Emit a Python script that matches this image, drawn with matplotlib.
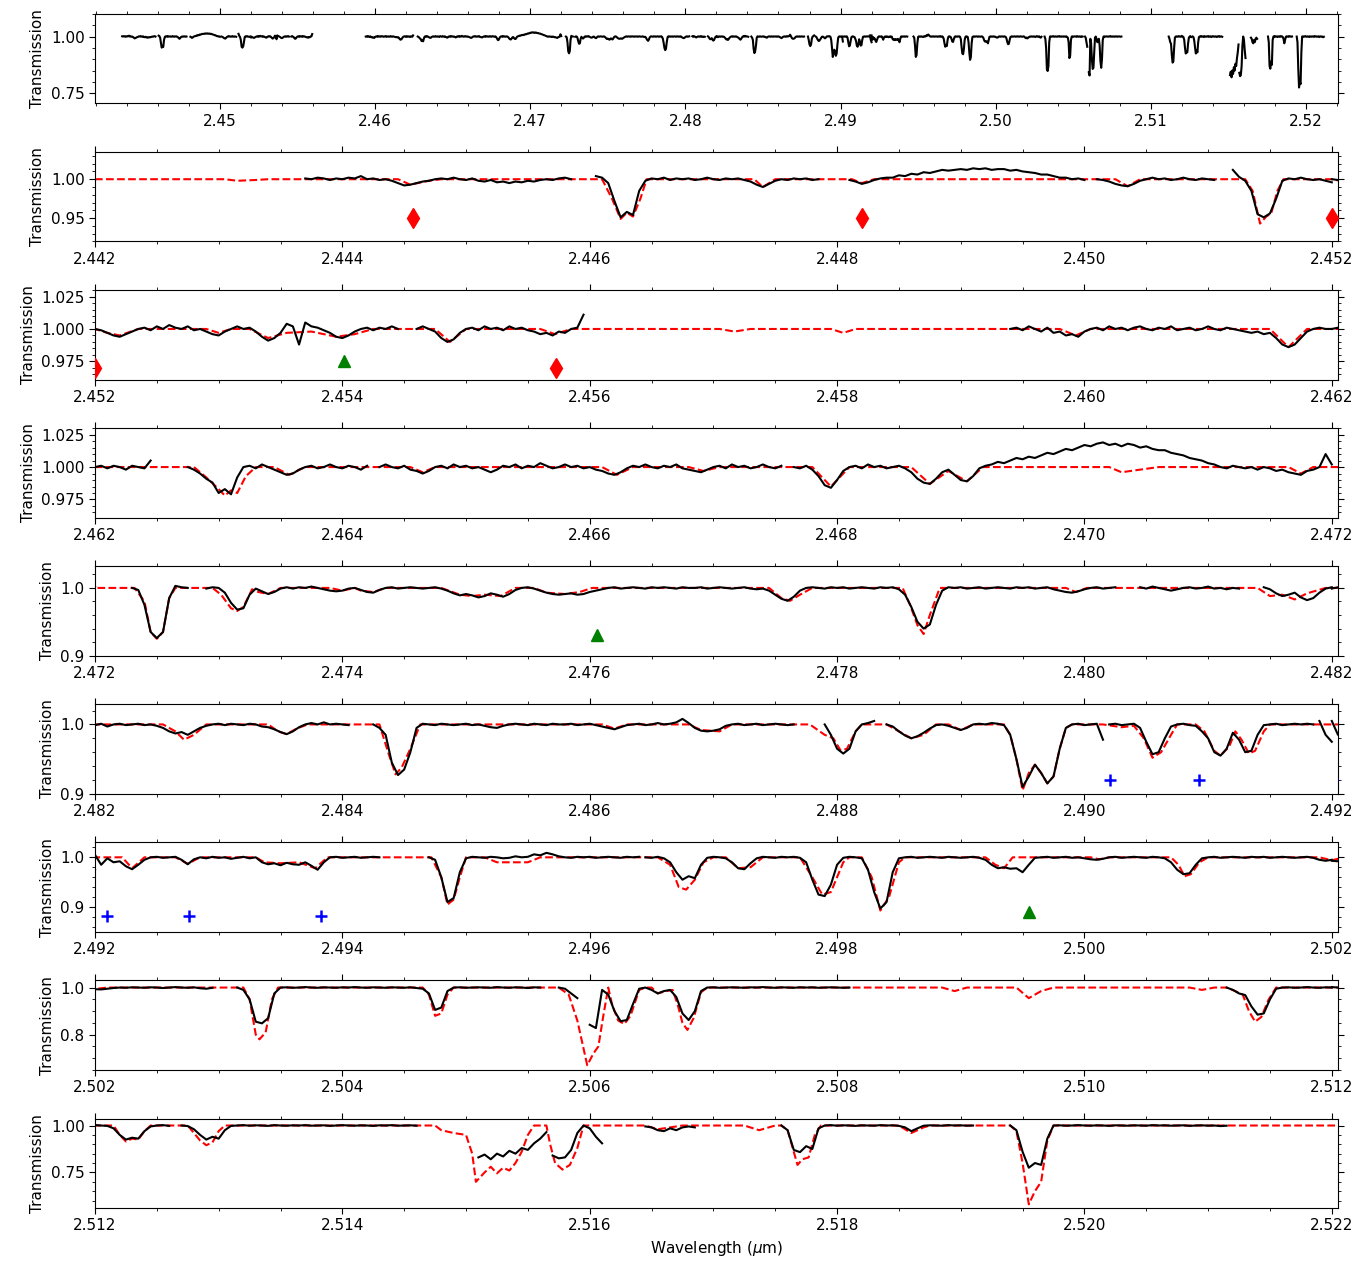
import matplotlib
matplotlib.use('Agg')
import matplotlib.pyplot as plt
from matplotlib.ticker import (MultipleLocator, AutoMinorLocator,
                               FormatStrFormatter, FixedLocator)
import numpy as np

# ── Observed spectrum: (first wavelength [um], samples every STEP um) ─────────
STEP = 0.00005

obs_2442 = [
    (2.44370, [1.001, 1.000, 1.002, 1.001, 0.999, 1.001, 1.000, 1.002, 1.001, 1.004,
               1.000, 1.001, 0.999, 1.000, 0.998, 0.995, 0.992, 0.993, 0.995, 0.997,
               0.998, 1.000, 1.001, 1.000, 1.002, 1.000, 0.999, 1.001, 0.998, 0.997,
               0.999, 0.996, 0.997, 0.995, 0.997, 0.996, 0.998, 0.997, 0.999, 1.000,
               0.999, 1.001, 1.002, 1.000]),
    (2.44605, [1.004, 1.002, 0.995, 0.972, 0.951, 0.958, 0.954, 0.985, 0.998, 1.001,
               1.000, 1.002, 0.999, 1.001, 1.000, 1.001, 0.999, 1.000, 1.002, 1.000,
               0.999, 1.001, 1.000, 1.001, 0.999, 0.997, 0.993, 0.990, 0.994, 0.998,
               1.000, 0.999, 1.001, 1.000, 1.001, 0.999, 1.000]),
    (2.44810, [0.999, 0.997, 0.994, 0.996, 0.999, 1.001, 1.002, 1.002, 1.005, 1.004,
               1.007, 1.006, 1.009, 1.008, 1.010, 1.012, 1.011, 1.012, 1.013, 1.012,
               1.014, 1.013, 1.014, 1.012, 1.013, 1.013, 1.011, 1.012, 1.010, 1.009,
               1.008, 1.006, 1.006, 1.004, 1.002, 1.002, 1.000, 1.001, 0.999]),
    (2.45010, [1.000, 0.999, 0.997, 0.994, 0.992, 0.991, 0.994, 0.998, 1.000, 1.002,
               1.000, 1.001, 0.999, 1.000, 1.002, 1.000, 0.999, 1.001, 1.000, 0.999]),
    (2.45120, [1.012, 1.003, 0.998, 0.985, 0.955, 0.951, 0.956, 0.975, 0.998, 1.001,
               1.000, 1.002, 1.000, 0.999, 1.000, 0.998, 0.996]),
]

obs_2452 = [
    (2.45200, [1.000, 0.999, 0.997, 0.995, 0.994, 0.996, 0.998, 1.000, 1.001, 0.999,
               1.002, 1.000, 1.003, 1.001, 1.000, 1.002, 0.999, 1.000, 0.998, 0.996,
               0.995, 0.998, 1.000, 1.002, 1.000, 1.001, 0.998, 0.994, 0.991, 0.993,
               0.997, 1.004, 1.002, 0.988, 1.005, 1.002, 1.001, 0.999, 0.997, 0.994,
               0.993, 0.995, 0.998, 1.000, 1.001, 0.999, 1.001, 1.000, 1.002, 1.000]),
    (2.45460, [1.000, 1.002, 1.000, 0.998, 0.993, 0.990, 0.992, 0.997, 1.000, 1.001,
               0.999, 1.002, 1.000, 1.001, 0.999, 1.002, 1.000, 1.001, 0.999, 0.998,
               0.996, 0.997, 0.995, 0.998, 0.997, 1.000, 1.001, 1.011]),
    (2.45940, [1.000, 1.001, 0.999, 1.002, 1.000, 0.998, 1.001, 0.997, 0.998, 0.995,
               0.996, 0.994, 0.998, 1.000, 1.001, 0.999, 1.002, 1.000, 1.001, 0.999,
               1.001, 1.002, 1.000, 0.999, 1.001, 1.000, 1.002, 0.999, 1.000, 1.001,
               0.999, 1.000, 1.002, 1.000, 0.999, 1.001, 1.000, 0.999, 0.998, 0.997,
               0.998, 0.996, 0.997, 0.993, 0.988, 0.986, 0.988, 0.993, 0.998, 1.000,
               1.001, 1.000, 1.000]),
]

obs_2462 = [
    (2.46200, [1.000, 1.001, 0.999, 1.001, 1.000, 0.998, 1.001, 1.000, 0.999, 1.005]),
    (2.46275, [1.000, 0.998, 0.995, 0.991, 0.988, 0.980, 0.983, 0.979, 0.992, 1.000,
               1.001, 0.999, 1.002, 1.000, 0.998, 0.996, 0.994, 0.995, 0.998, 1.000,
               1.001, 0.999, 1.000, 1.002, 1.000, 0.999, 1.001, 1.000, 0.998, 1.001]),
    (2.46430, [1.000, 1.002, 1.000, 0.999, 1.001, 0.998, 0.997, 0.995, 0.997, 1.000,
               1.001, 0.999, 1.002, 1.000, 1.001, 0.999, 1.000, 0.998, 0.996, 0.998,
               1.001, 1.000, 1.002, 0.999, 1.001, 1.000, 1.003, 1.001, 0.999, 1.000,
               1.002, 1.000, 1.001, 0.999, 1.000, 0.998, 0.997, 0.995, 0.994, 0.996,
               0.999, 1.001, 1.000, 1.002, 1.000, 0.999, 1.001, 1.000, 1.002, 0.999,
               0.998, 0.997, 0.996, 0.998, 1.000, 1.001, 0.999, 1.002, 1.000, 1.001,
               0.999, 1.000, 1.002, 1.000, 0.999, 1.001]),
    (2.46765, [1.000, 0.999, 1.001, 0.998, 0.993, 0.986, 0.984, 0.990, 0.997, 1.000,
               1.001, 0.999, 1.002, 1.000, 1.001, 0.999, 1.000, 1.001, 0.999, 0.996,
               0.991, 0.988, 0.987, 0.991, 0.996, 0.998, 0.994, 0.990, 0.989, 0.993,
               0.999, 1.001, 1.002, 1.004, 1.003, 1.005, 1.007, 1.006, 1.008, 1.007,
               1.009, 1.011, 1.010, 1.012, 1.014, 1.013, 1.015, 1.017, 1.016, 1.018,
               1.019, 1.017, 1.018, 1.016, 1.018, 1.017, 1.015, 1.016, 1.014, 1.013,
               1.013, 1.011, 1.010, 1.009, 1.007, 1.006, 1.005, 1.003, 1.002, 1.000,
               0.999, 1.001, 1.000, 0.999, 1.000, 0.998, 1.000, 0.999, 0.997, 0.998,
               0.996, 0.995, 0.994, 0.997, 0.998, 1.000, 1.010, 1.002]),
]

obs_2472 = [
    (2.47230, [1.000, 0.997, 0.975, 0.935, 0.926, 0.935, 0.985, 1.003, 1.001, 1.000]),
    (2.47290, [0.999, 1.001, 1.000, 0.993, 0.978, 0.968, 0.970, 0.990, 0.999, 0.995,
               0.991, 0.994, 0.999, 1.001, 0.999, 1.001, 1.000, 1.002, 1.000, 0.998,
               0.996, 0.995, 0.996, 0.999, 1.000, 0.997, 0.994, 0.993, 0.997, 1.000,
               1.001, 0.999, 1.000, 1.001, 1.000, 0.999, 1.000, 1.001, 0.999, 0.996,
               0.992, 0.989, 0.991, 0.989, 0.986, 0.988, 0.992, 0.990, 0.987, 0.991,
               0.997, 1.000, 1.001, 0.999, 0.996, 0.993, 0.991, 0.990, 0.991, 0.992,
               0.990, 0.991, 0.994, 0.996, 0.998, 1.000, 1.001, 0.999, 1.000, 1.001,
               1.000, 0.999, 1.001, 1.000, 1.001, 1.000, 0.999, 1.001, 1.000, 1.000,
               1.001, 0.999, 1.000, 1.001, 1.000, 0.999, 1.000, 1.001, 0.999, 0.998,
               0.999, 0.996, 0.990, 0.984, 0.981, 0.987, 0.996, 1.000, 1.001, 1.000,
               0.999, 1.001, 1.000, 1.001, 0.999, 1.000, 1.001, 1.000, 0.999, 1.001,
               1.000, 1.001, 0.998, 0.990, 0.972, 0.950, 0.940, 0.946, 0.975, 0.996,
               1.001, 1.000, 1.001, 0.999, 1.000, 1.001, 0.999, 1.000, 1.001, 1.000,
               0.999, 1.001, 1.000, 1.001, 0.999, 1.000, 1.001, 0.998, 0.996, 0.994,
               0.993, 0.995, 0.998, 1.000, 1.001, 0.999, 1.000, 1.001]),
    (2.48045, [1.001, 0.999, 1.002, 1.000, 0.998, 0.996, 0.998, 1.000, 1.001, 0.999,
               1.000, 1.002, 0.999, 1.000, 0.998, 1.000, 0.999]),
    (2.48145, [1.001, 0.998, 0.992, 0.988, 0.990, 0.993, 0.986, 0.982, 0.985, 0.993,
               0.999, 1.001]),
]

obs_2482 = [
    (2.48200, [0.999, 1.001, 0.997, 1.000, 1.001, 0.999, 1.000, 1.001, 0.999, 1.000,
               0.998, 0.995, 0.990, 0.987, 0.989, 0.985, 0.990, 0.995, 0.998, 1.000,
               1.001, 0.999, 1.001, 1.000, 0.999, 1.001, 1.000, 0.997, 0.996, 0.993,
               0.989, 0.986, 0.990, 0.996, 1.000, 1.002, 1.000, 1.003, 1.000, 1.001,
               1.000, 0.999]),
    (2.48425, [1.000, 0.995, 0.985, 0.945, 0.927, 0.935, 0.960, 0.995, 1.001, 1.000,
               0.999, 1.001, 1.000, 0.999, 1.000, 1.001, 0.999, 1.000, 0.998, 0.996,
               0.995, 0.998, 1.000, 1.001, 1.000, 0.999, 1.001, 1.000, 0.999, 1.001,
               1.000, 1.000, 1.001, 0.999, 1.000, 1.001, 0.999, 0.997, 0.995, 0.993,
               0.996, 0.999, 1.000, 1.001, 0.999, 1.000, 1.002, 1.000, 1.001, 1.003,
               1.008, 1.002, 0.995, 0.991, 0.990, 0.991, 0.993, 0.998, 1.000, 1.001,
               0.999, 1.000, 1.001, 0.999, 1.000, 1.001, 1.000, 0.999, 1.000]),
    (2.48790, [1.000, 0.985, 0.965, 0.958, 0.965, 0.990, 1.000, 1.002, 1.005]),
    (2.48840, [1.000, 0.997, 0.990, 0.984, 0.980, 0.983, 0.988, 0.994, 0.999, 1.000,
               0.998, 0.995, 0.992, 0.995, 1.000, 1.001, 1.000, 1.002, 1.001, 0.999,
               0.985, 0.950, 0.910, 0.925, 0.942, 0.930, 0.915, 0.925, 0.965, 0.995,
               1.000, 1.001, 0.999, 1.000, 1.001, 0.978]),
    (2.49020, [1.000, 1.001, 0.999, 1.000, 1.001, 0.995, 0.975, 0.957, 0.960, 0.980,
               0.997, 1.000, 1.001, 0.999, 0.998, 0.990, 0.980, 0.960, 0.955, 0.965,
               0.988, 0.978, 0.960, 0.962, 0.985, 0.999, 1.000, 1.001, 0.999, 1.000,
               1.001, 1.000, 1.001, 1.000]),
    (2.49190, [1.005, 0.985, 0.975]),
]

obs_2492 = [
    (2.49200, [1.005, 0.985, 0.998, 0.990, 0.992, 0.982, 0.976, 0.985, 0.995, 1.000,
               1.001, 0.999, 1.000, 1.001, 0.995, 0.986, 0.996, 1.000, 0.998, 1.001,
               0.999, 1.000, 0.997, 0.999, 1.001, 0.998, 1.000, 0.990, 0.986, 0.988,
               0.984, 0.989, 0.986, 0.985, 0.990, 0.983, 0.975, 0.990, 1.000, 1.001,
               0.999, 1.000, 1.001, 0.999, 1.000, 1.001, 1.000]),
    (2.49470, [1.000, 0.995, 0.960, 0.910, 0.918, 0.970, 0.998, 1.001, 1.000, 0.999,
               1.001, 1.000, 0.998, 0.999, 1.002, 1.000, 1.001, 1.006, 1.004, 1.009,
               1.006, 1.002, 1.000, 0.999, 1.001, 1.000, 1.001, 0.999, 1.000, 1.001,
               1.000, 0.999, 1.001, 1.000, 1.001]),
    (2.49645, [1.000, 0.999, 1.001, 0.998, 0.990, 0.970, 0.955, 0.962, 0.958, 0.985,
               0.999, 1.001, 1.000, 0.998, 0.990, 0.978, 0.976, 0.988, 0.998, 1.001,
               1.000, 0.999, 1.001, 1.000, 1.001, 0.999, 0.990, 0.955, 0.925, 0.922,
               0.945, 0.985, 0.999, 1.001, 1.000, 0.998, 0.975, 0.930, 0.897, 0.910,
               0.970, 0.998, 1.000, 1.001, 0.999, 1.000, 1.001, 1.000, 0.999, 1.001,
               1.000, 0.999, 1.000, 1.001, 0.999, 0.995, 0.985, 0.978, 0.980, 0.977,
               0.978, 0.970, 0.985, 0.999, 1.000, 1.001, 0.999, 1.000, 1.001, 0.999,
               1.000, 0.998, 0.996, 0.995, 0.997, 1.000, 1.001, 0.999, 1.000, 1.001,
               1.000, 0.999, 1.001, 1.000, 0.998, 0.990, 0.975, 0.966, 0.968, 0.985,
               0.998, 1.000, 1.001, 0.999, 1.000, 1.001, 1.000, 0.999, 1.001, 1.000,
               1.001, 0.999, 1.000, 1.001, 1.000, 0.999, 1.000, 1.001, 0.999, 0.995,
               0.993, 0.995]),
]

obs_2502 = [
    (2.50200, [0.993, 0.992, 0.995, 0.998, 1.000, 0.999, 1.001, 1.000, 0.999, 1.001,
               1.000, 0.998, 1.000, 1.002, 1.000, 0.999, 1.001, 0.997, 0.995, 0.999]),
    (2.50315, [1.000, 0.990, 0.950, 0.855, 0.848, 0.870, 0.975, 1.000, 1.001, 0.999,
               1.000, 1.002, 1.000, 0.999, 1.001, 1.000, 0.999, 1.001, 1.000, 1.002,
               1.000, 0.999, 1.001, 1.000, 0.999, 1.001, 1.000, 0.999, 1.001, 0.998,
               0.995, 0.975, 0.905, 0.915, 0.985, 1.000, 1.001, 0.999, 1.000, 1.001,
               1.000, 0.999, 1.002, 1.000, 0.999, 1.001, 1.000, 0.998, 1.001, 1.000]),
    (2.50575, [1.000, 0.995, 0.975, 0.955]),
    (2.50600, [0.842, 0.828, 0.990, 0.970, 0.900, 0.857, 0.862, 0.930, 0.995, 1.000,
               0.990, 0.975, 0.985, 0.990, 0.960, 0.890, 0.862, 0.900, 0.985, 1.000,
               1.001, 0.999, 1.000, 1.001, 1.000, 0.999, 1.001, 1.000, 1.002, 1.000,
               0.999, 1.001, 1.000, 0.999, 1.001, 1.000, 1.001, 0.999, 1.000, 1.001,
               1.000, 0.999, 1.000]),
    (2.51115, [1.000, 0.990, 0.975, 0.968, 0.920, 0.885, 0.890, 0.950, 0.995, 1.000,
               1.001, 0.999, 1.000, 1.002, 1.000, 0.999, 1.001, 1.000]),
]

obs_2512 = [
    (2.51200, [1.002, 1.000, 0.998, 0.985, 0.950, 0.925, 0.935, 0.930, 0.970, 0.995,
               1.000, 1.002, 0.998]),
    (2.51270, [1.000, 0.997, 0.980, 0.950, 0.925, 0.940, 0.930, 0.975, 0.998, 1.000,
               1.002, 0.999, 1.001, 1.000, 0.998, 1.002, 1.000, 0.999, 1.001, 1.000,
               1.002, 0.999, 1.000, 1.001, 0.998, 1.000, 1.002, 1.000, 0.999, 1.001,
               1.000, 0.998, 1.001, 1.000, 1.002, 0.999, 1.000, 1.001, 0.999]),
    (2.51510, [0.830, 0.845, 0.820, 0.850, 0.835, 0.865, 0.850, 0.880, 0.870, 0.905,
               0.930, 0.965]),
    (2.51570, [0.840, 0.825, 0.830, 0.870, 0.960, 1.000, 0.985, 0.940, 0.905]),
    (2.51645, [0.995, 0.990, 0.975, 0.970, 0.985, 0.975, 0.990, 0.995, 0.990]),
    (2.51755, [1.000, 0.975, 0.870, 0.858, 0.890, 0.875, 0.985, 1.000, 1.002, 0.999,
               1.001, 1.000, 0.998, 1.001, 1.000, 0.999, 1.002, 1.000, 1.001, 0.998,
               0.990, 0.970, 0.985, 0.999, 1.001, 1.000, 0.999, 1.002, 1.000, 1.001,
               0.999, 1.000]),
    (2.51940, [1.000, 0.975, 0.860, 0.775, 0.800, 0.790, 0.930, 1.000, 1.001, 0.999,
               1.000, 1.002, 1.000, 0.999, 1.001, 1.000, 0.998, 1.001, 1.000, 0.999,
               1.001, 1.000, 0.999, 1.002, 1.000, 1.001, 0.999, 1.000, 1.001, 0.998,
               1.000, 1.001, 0.999, 1.000, 0.997, 0.999]),
]

# ── Telluric model: (wavelength [um], transmission) knots ────────────────────
model_2442 = [
    (2.44200, 1.000), (2.44305, 1.000), (2.44315, 0.998), (2.44330, 0.999), (2.44340, 1.000),
    (2.44445, 1.000), (2.44455, 0.993), (2.44470, 0.998), (2.44480, 1.000),
    (2.44610, 1.000), (2.44618, 0.975), (2.44625, 0.949), (2.44630, 0.957), (2.44635, 0.952),
    (2.44641, 0.975), (2.44646, 1.000),
    (2.44733, 1.000), (2.44740, 0.990), (2.44750, 1.000),
    (2.44812, 1.000), (2.44820, 0.995), (2.44830, 1.000),
    (2.45025, 1.000), (2.45035, 0.991), (2.45045, 1.000),
    (2.45130, 1.000), (2.45136, 0.985), (2.45142, 0.943), (2.45147, 0.952), (2.45151, 0.956),
    (2.45156, 0.985), (2.45161, 1.000), (2.45190, 1.000),
]
model_2452 = [
    (2.45200, 1.000), (2.45210, 0.997), (2.45220, 0.995), (2.45235, 1.000),
    (2.45290, 1.000), (2.45300, 0.997), (2.45310, 1.000),
    (2.45325, 1.000), (2.45340, 0.993), (2.45355, 0.997), (2.45375, 0.998), (2.45395, 0.994),
    (2.45410, 0.996), (2.45425, 1.000),
    (2.45475, 1.000), (2.45487, 0.990), (2.45500, 1.000),
    (2.45560, 1.000), (2.45572, 0.996), (2.45585, 1.000),
    (2.45705, 1.000), (2.45717, 0.998), (2.45730, 1.000),
    (2.45795, 1.000), (2.45805, 0.997), (2.45815, 1.000),
    (2.45980, 1.000), (2.45993, 0.995), (2.46005, 1.000),
    (2.46150, 1.000), (2.46165, 0.986), (2.46180, 1.000), (2.46210, 1.000),
]
model_2462 = [
    (2.46220, 1.000), (2.46280, 1.000), (2.46290, 0.992), (2.46300, 0.983), (2.46305, 0.978),
    (2.46310, 0.982), (2.46315, 0.980), (2.46322, 0.993), (2.46330, 1.000),
    (2.46345, 1.000), (2.46357, 0.994), (2.46370, 1.000),
    (2.46455, 1.000), (2.46465, 0.996), (2.46475, 1.000),
    (2.46610, 1.000), (2.46622, 0.994), (2.46635, 1.000),
    (2.46680, 1.000), (2.46692, 0.997), (2.46705, 1.000),
    (2.46780, 1.000), (2.46795, 0.985), (2.46810, 1.000),
    (2.46860, 1.000), (2.46875, 0.987), (2.46890, 0.997), (2.46905, 0.989), (2.46918, 1.000),
    (2.47020, 1.000), (2.47030, 0.996), (2.47045, 0.998), (2.47060, 1.000),
    (2.47165, 1.000), (2.47175, 0.995), (2.47185, 1.000),
]
model_2472 = [
    (2.47200, 1.000), (2.47232, 1.000), (2.47240, 0.980), (2.47245, 0.935), (2.47250, 0.925),
    (2.47255, 0.935), (2.47260, 0.985), (2.47265, 1.000),
    (2.47295, 1.000), (2.47302, 0.990), (2.47310, 0.970), (2.47315, 0.966), (2.47320, 0.972),
    (2.47327, 0.998), (2.47332, 0.994), (2.47340, 0.991), (2.47350, 1.000),
    (2.47390, 1.000), (2.47400, 0.996), (2.47410, 1.000), (2.47415, 0.996), (2.47425, 0.994),
    (2.47435, 1.000),
    (2.47480, 1.000), (2.47495, 0.990), (2.47505, 0.988), (2.47515, 0.990), (2.47528, 0.988),
    (2.47540, 1.000),
    (2.47555, 1.000), (2.47565, 0.993), (2.47580, 0.991), (2.47592, 0.994), (2.47602, 1.000),
    (2.47745, 1.000), (2.47755, 0.985), (2.47762, 0.981), (2.47770, 0.990), (2.47780, 1.000),
    (2.47853, 1.000), (2.47859, 0.975), (2.47865, 0.945), (2.47870, 0.932), (2.47875, 0.960),
    (2.47883, 1.000),
    (2.47985, 1.000), (2.47993, 0.994), (2.48002, 1.000),
    (2.48140, 1.000), (2.48150, 0.988), (2.48160, 0.990), (2.48170, 0.983), (2.48180, 0.992),
    (2.48195, 1.000),
]
model_2482 = [
    (2.48200, 1.000), (2.48255, 1.000), (2.48265, 0.990), (2.48272, 0.978), (2.48280, 0.985),
    (2.48290, 1.000),
    (2.48340, 1.000), (2.48348, 0.990), (2.48355, 0.986), (2.48363, 0.994), (2.48372, 1.000),
    (2.48430, 1.000), (2.48437, 0.960), (2.48443, 0.928), (2.48448, 0.938), (2.48455, 0.965),
    (2.48463, 1.000),
    (2.48610, 1.000), (2.48620, 0.994), (2.48630, 1.000),
    (2.48680, 1.000), (2.48690, 0.992), (2.48705, 0.990), (2.48715, 1.000),
    (2.48778, 1.000), (2.48790, 0.985), (2.48797, 0.980), (2.48803, 0.962), (2.48808, 0.965),
    (2.48815, 0.990), (2.48820, 1.000),
    (2.48840, 1.000), (2.48850, 0.990), (2.48860, 0.980), (2.48870, 0.985), (2.48880, 1.000),
    (2.48890, 1.000), (2.48900, 0.992), (2.48910, 1.000),
    (2.48935, 1.000), (2.48940, 0.985), (2.48945, 0.950), (2.48950, 0.905), (2.48955, 0.930),
    (2.48960, 0.942), (2.48965, 0.930), (2.48970, 0.915), (2.48975, 0.925), (2.48980, 0.965),
    (2.48985, 0.995), (2.48990, 1.000),
    (2.49015, 1.000), (2.49030, 0.996), (2.49040, 0.998), (2.49048, 0.980), (2.49055, 0.952),
    (2.49062, 0.960), (2.49070, 0.985), (2.49075, 1.000),
    (2.49090, 1.000), (2.49097, 0.990), (2.49105, 0.962), (2.49110, 0.955), (2.49117, 0.968),
    (2.49122, 0.990), (2.49127, 0.978), (2.49133, 0.958), (2.49138, 0.962), (2.49145, 0.990),
    (2.49150, 1.000),
]
model_2492 = [
    (2.49200, 1.000), (2.49222, 1.000), (2.49230, 0.978), (2.49240, 1.000),
    (2.49265, 1.000), (2.49275, 0.987), (2.49285, 1.000),
    (2.49330, 1.000), (2.49337, 0.990), (2.49350, 0.988), (2.49365, 0.990), (2.49378, 0.978),
    (2.49388, 1.000),
    (2.49472, 1.000), (2.49480, 0.960), (2.49485, 0.905), (2.49490, 0.915), (2.49495, 0.960),
    (2.49500, 1.000),
    (2.49515, 1.000), (2.49525, 0.990), (2.49550, 0.990), (2.49560, 1.000),
    (2.49655, 1.000), (2.49665, 0.985), (2.49672, 0.940), (2.49678, 0.935), (2.49685, 0.955),
    (2.49692, 0.990), (2.49700, 1.000),
    (2.49710, 1.000), (2.49720, 0.978), (2.49730, 0.980), (2.49740, 1.000),
    (2.49770, 1.000), (2.49780, 0.960), (2.49788, 0.925), (2.49795, 0.930), (2.49805, 0.990),
    (2.49810, 1.000),
    (2.49820, 1.000), (2.49828, 0.960), (2.49835, 0.893), (2.49842, 0.920), (2.49850, 0.990),
    (2.49855, 1.000),
    (2.49920, 1.000), (2.49928, 0.985), (2.49935, 0.978), (2.49942, 1.000),
    (2.50005, 1.000), (2.50012, 0.996), (2.50020, 1.000),
    (2.50070, 1.000), (2.50076, 0.985), (2.50081, 0.962), (2.50086, 0.966), (2.50093, 0.990),
    (2.50100, 1.000), (2.50190, 1.000),
]
model_2502 = [
    (2.50200, 0.994), (2.50210, 1.000),
    (2.50320, 1.000), (2.50325, 0.950), (2.50330, 0.800), (2.50333, 0.780), (2.50338, 0.810),
    (2.50343, 0.950), (2.50348, 1.000),
    (2.50465, 1.000), (2.50470, 0.970), (2.50475, 0.880), (2.50480, 0.890), (2.50485, 0.970),
    (2.50490, 1.000),
    (2.50575, 1.000), (2.50583, 0.970), (2.50590, 0.860), (2.50598, 0.670), (2.50603, 0.720),
    (2.50607, 0.750), (2.50611, 0.880), (2.50615, 1.000),
    (2.50618, 0.930), (2.50623, 0.860), (2.50628, 0.845), (2.50633, 0.880), (2.50640, 0.990),
    (2.50645, 1.000),
    (2.50650, 1.000), (2.50655, 0.975), (2.50662, 0.985), (2.50667, 0.990), (2.50671, 0.930),
    (2.50675, 0.850), (2.50679, 0.820), (2.50684, 0.870), (2.50690, 0.980), (2.50695, 1.000),
    (2.50885, 1.000), (2.50895, 0.985), (2.50905, 1.000),
    (2.50945, 1.000), (2.50955, 0.955), (2.50965, 0.985), (2.50975, 1.000),
    (2.51085, 1.000), (2.51095, 0.990), (2.51105, 1.000),
    (2.51115, 1.000), (2.51122, 0.985), (2.51128, 0.970), (2.51133, 0.900), (2.51138, 0.855),
    (2.51143, 0.875), (2.51149, 0.950), (2.51155, 1.000),
]
model_2512 = [
    (2.51200, 1.000), (2.51215, 1.000), (2.51220, 0.950), (2.51225, 0.915), (2.51230, 0.930),
    (2.51235, 0.925), (2.51240, 0.970), (2.51245, 1.000),
    (2.51275, 1.000), (2.51280, 0.960), (2.51285, 0.920), (2.51290, 0.895), (2.51295, 0.910),
    (2.51300, 0.970), (2.51305, 1.000),
    (2.51475, 1.000), (2.51480, 0.975), (2.51490, 0.960), (2.51500, 0.950), (2.51505, 0.850),
    (2.51508, 0.700), (2.51515, 0.750), (2.51520, 0.780), (2.51525, 0.745), (2.51530, 0.775),
    (2.51535, 0.760), (2.51540, 0.800), (2.51545, 0.860), (2.51550, 0.950), (2.51555, 1.000),
    (2.51565, 1.000), (2.51568, 0.900), (2.51572, 0.800), (2.51578, 0.765), (2.51584, 0.790),
    (2.51590, 0.880), (2.51595, 1.000),
    (2.51645, 1.000), (2.51655, 0.980), (2.51665, 0.990), (2.51675, 1.000),
    (2.51725, 1.000), (2.51737, 0.975), (2.51750, 1.000),
    (2.51755, 1.000), (2.51760, 0.975), (2.51765, 0.860), (2.51768, 0.790), (2.51772, 0.820),
    (2.51777, 0.830), (2.51782, 0.950), (2.51787, 1.000),
    (2.51850, 1.000), (2.51860, 0.960), (2.51870, 0.990), (2.51875, 1.000),
    (2.51940, 1.000), (2.51945, 0.970), (2.51950, 0.800), (2.51955, 0.580), (2.51960, 0.650),
    (2.51965, 0.700), (2.51970, 0.920), (2.51975, 1.000), (2.52210, 1.000),
]

# ── Line identifications ─────────────────────────────────────────────────────
diamond_wl = [2.44457, 2.44820, 2.45200, 2.45573]
triangle_wl = [2.45401, 2.47606, 2.49955]
plus_wl = [2.49021, 2.49093, 2.49210, 2.49276, 2.49383]

# ── Panel setup ──────────────────────────────────────────────────────────────
panel_starts = [2.442, 2.452, 2.462, 2.472, 2.482, 2.492, 2.502, 2.512]
panel_ylims = [(0.92, 1.035), (0.961, 1.030), (0.961, 1.030), (0.90, 1.032),
               (0.90, 1.029), (0.85, 1.030), (0.65, 1.030), (0.56, 1.037)]
panel_yticks = [[0.95, 1.00], [0.975, 1.000, 1.025], [0.975, 1.000, 1.025],
                [0.9, 1.0], [0.9, 1.0], [0.9, 1.0], [0.8, 1.0], [0.75, 1.00]]
panel_yfmt = ['%.2f', '%.3f', '%.3f', '%.1f', '%.1f', '%.1f', '%.1f', '%.2f']
# marker heights in each panel: diamond, triangle, plus
panel_marks = [(0.95, 0.975, 0.92), (0.97, 0.9755, 0.92), (0.97, 0.975, 0.92),
               (0.95, 0.931, 0.92), (0.95, 0.931, 0.920), (0.95, 0.890, 0.882),
               (0.95, 0.89, 0.88), (0.95, 0.89, 0.88)]

obs_all = obs_2442 + obs_2452 + obs_2462 + obs_2472 + obs_2482 + obs_2492 + obs_2502 + obs_2512
model_all = (model_2442 + model_2452 + model_2462 + model_2472 + model_2482 +
             model_2492 + model_2502 + model_2512)
model_wl = np.array([p[0] for p in model_all])
model_tr = np.array([p[1] for p in model_all])


def obs_arrays(seg):
    start, vals = seg
    return start + STEP * np.arange(len(vals)), np.array(vals)


def style_axis(ax):
    ax.tick_params(which='both', direction='out', top=True, right=True, labelsize=11)
    ax.tick_params(which='major', length=4)
    ax.tick_params(which='minor', length=2)
    ax.xaxis.set_minor_locator(AutoMinorLocator())
    ax.yaxis.set_minor_locator(AutoMinorLocator())
    ax.set_ylabel('Transmission', fontsize=11)


fig = plt.figure(figsize=(13.53, 12.63), dpi=100)
axes = fig.subplots(9, 1)
fig.subplots_adjust(left=0.0702, right=0.9889, top=0.989, bottom=0.0435, hspace=0.543)

# overview panel
ax = axes[0]
for seg in obs_all:
    w, t = obs_arrays(seg)
    ax.plot(w, t, color='k', lw=1.5)
ax.set_xlim(2.44195, 2.52206)
ax.set_ylim(0.705, 1.10)
ax.xaxis.set_major_locator(MultipleLocator(0.01))
ax.xaxis.set_major_formatter(FormatStrFormatter('%.2f'))
ax.yaxis.set_major_locator(FixedLocator([0.75, 1.00]))
ax.yaxis.set_major_formatter(FormatStrFormatter('%.2f'))
style_axis(ax)

# zoomed chunks
for i, x0 in enumerate(panel_starts):
    ax = axes[i + 1]
    ax.plot(model_wl, model_tr, color='r', ls='--', lw=1.5, zorder=1)
    for seg in obs_all:
        w, t = obs_arrays(seg)
        ax.plot(w, t, color='k', lw=1.5, zorder=2)
    yd, yt, yp = panel_marks[i]
    ax.plot(diamond_wl, [yd] * len(diamond_wl), ls='none', marker='d',
            color='r', ms=10, zorder=3)
    ax.plot(triangle_wl, [yt] * len(triangle_wl), ls='none', marker='^',
            color='g', ms=8, zorder=3)
    ax.plot(plus_wl, [yp] * len(plus_wl), ls='none', marker='+',
            color='b', ms=8, mew=1.8, zorder=3)
    ax.set_xlim(x0, x0 + 0.01005)
    ax.set_ylim(*panel_ylims[i])
    ax.xaxis.set_major_locator(MultipleLocator(0.002))
    ax.xaxis.set_major_formatter(FormatStrFormatter('%.3f'))
    ax.yaxis.set_major_locator(FixedLocator(panel_yticks[i]))
    ax.yaxis.set_major_formatter(FormatStrFormatter(panel_yfmt[i]))
    style_axis(ax)

axes[-1].set_xlabel(r'Wavelength ($\mu$m)', fontsize=11)

fig.savefig('out.png', dpi=100)
